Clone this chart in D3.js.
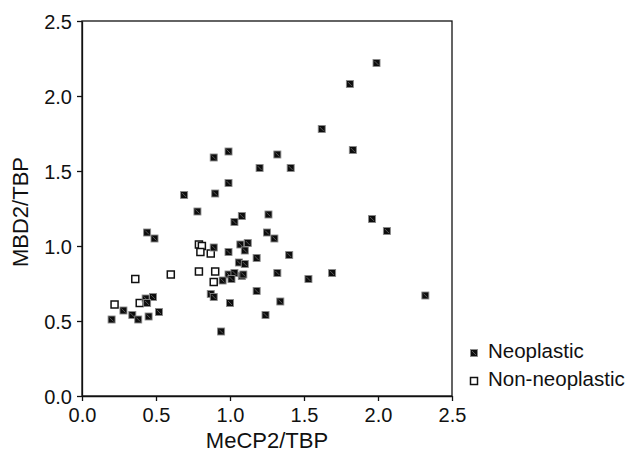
<!DOCTYPE html>
<html>
<head>
<meta charset="utf-8">
<script src="https://cdn.jsdelivr.net/npm/d3@7"></script>
<style>
	body { margin: 0; background: #fff; }
	text { font-family: "Liberation Sans", Arial, sans-serif; fill: #111; }
</style>
</head>
<body>
<div id="chart"></div>
<script>
// neoplastic samples: [MeCP2/TBP, MBD2/TBP]
const neoX = [1.99, 1.81, 1.62, 1.83, 0.99, 0.89, 1.32, 1.20, 1.41, 0.99,
	0.90, 0.69, 0.78, 1.08, 1.26, 1.03, 1.96, 2.06, 0.44, 0.49,
	1.25, 1.30, 0.89, 1.07, 1.12, 1.10, 0.99, 1.40, 1.18, 1.06,
	1.10, 1.69, 1.32, 0.99, 1.03, 1.08, 1.09, 0.95, 1.01, 1.53,
	1.18, 0.87, 0.89, 2.32, 0.48, 0.43, 0.44, 1.00, 1.34, 0.52,
	1.24, 0.28, 0.34, 0.38, 0.45, 0.20, 0.94];
const neoY = [2.22, 2.08, 1.78, 1.64, 1.63, 1.59, 1.61, 1.52, 1.52, 1.42,
	1.35, 1.34, 1.23, 1.20, 1.21, 1.16, 1.18, 1.10, 1.09, 1.05,
	1.09, 1.05, 0.99, 1.01, 1.02, 0.97, 0.96, 0.94, 0.92, 0.89,
	0.88, 0.82, 0.82, 0.81, 0.82, 0.80, 0.81, 0.77, 0.78, 0.78,
	0.70, 0.68, 0.66, 0.67, 0.66, 0.65, 0.62, 0.62, 0.63, 0.56,
	0.54, 0.57, 0.54, 0.51, 0.53, 0.51, 0.43];

// non-neoplastic samples
const nonX = [0.22, 0.36, 0.39, 0.60, 0.79, 0.81, 0.80, 0.87, 0.79, 0.90, 0.89];
const nonY = [0.61, 0.78, 0.62, 0.81, 1.01, 1.00, 0.96, 0.95, 0.83, 0.83, 0.76];

const ticks = [0, 0.5, 1.0, 1.5, 2.0, 2.5];
const legendLabels = ['Neoplastic', 'Non-neoplastic'];

let svgWidth = 631;
let svgHeight = 452;
let padding = { 'left': 82, 'right': 179, 'top': 21, 'bottom': 56 };

let svg = d3.select('#chart').append('svg')
	.attr('width', svgWidth)
	.attr('height', svgHeight);

let x = d3.scaleLinear()
	.domain([0, 2.5])
	.range([padding.left, svgWidth - padding.right]);
let y = d3.scaleLinear()
	.domain([0, 2.5])
	.range([svgHeight - padding.bottom, padding.top]);

// frame
svg.append('rect')
	.attr('x', x(0))
	.attr('y', y(2.5))
	.attr('width', x(2.5) - x(0))
	.attr('height', y(0) - y(2.5))
	.attr('fill', 'none')
	.attr('stroke', '#111')
	.attr('stroke-width', 1.3);

let axis_x = d3.axisBottom(x)
	.tickValues(ticks)
	.tickSize(5)
	.tickSizeOuter(0)
	.tickFormat(d3.format('.1f'));
let axis_y = d3.axisLeft(y)
	.tickValues(ticks)
	.tickSize(5)
	.tickSizeOuter(0)
	.tickFormat(d3.format('.1f'));

let gx = svg.append('g')
	.attr('transform', `translate(0, ${y(0)})`)
	.call(axis_x);
let gy = svg.append('g')
	.attr('transform', `translate(${x(0)}, 0)`)
	.call(axis_y);

[gx, gy].forEach(g => {
	g.selectAll('path, line').attr('stroke', '#111').attr('stroke-width', 1.3);
	g.selectAll('text')
		.style('font-family', '"Liberation Sans", Arial, sans-serif')
		.style('font-size', '20px')
		.attr('fill', '#111');
});
gx.selectAll('text').attr('dy', '0.9em');
gy.selectAll('text').attr('x', -10).attr('dy', '0.36em');

svg.append('text')
	.attr('x', (x(0) + x(2.5)) / 2)
	.attr('y', 448)
	.attr('text-anchor', 'middle')
	.attr('font-size', '22px')
	.text('MeCP2/TBP');

svg.append('text')
	.attr('transform', `translate(28, 212) rotate(-90)`)
	.attr('text-anchor', 'middle')
	.attr('font-size', '22px')
	.text('MBD2/TBP');

function filledSquare(g, cx, cy, s) {
	g.append('rect')
		.attr('x', cx - s / 2)
		.attr('y', cy - s / 2)
		.attr('width', s)
		.attr('height', s)
		.attr('fill', '#0d0d0d')
		.attr('stroke', '#8a8a8a')
		.attr('stroke-width', 0.9);
	g.append('line')
		.attr('x1', cx - s / 2 + 1.5)
		.attr('y1', cy - s / 2 + 1.5)
		.attr('x2', cx + s / 2 - 1.5)
		.attr('y2', cy + s / 2 - 1.5)
		.attr('stroke', '#6a6a6a')
		.attr('stroke-width', 0.8);
}

function openSquare(g, cx, cy, s) {
	g.append('rect')
		.attr('x', cx - s / 2)
		.attr('y', cy - s / 2)
		.attr('width', s)
		.attr('height', s)
		.attr('fill', '#fff')
		.attr('stroke', '#111')
		.attr('stroke-width', 1.5);
}

let body = svg.append('g').classed('body', true);

nonX.forEach((d, i) => openSquare(body, x(d), y(nonY[i]), 7));
neoX.forEach((d, i) => filledSquare(body, x(d), y(neoY[i]), 7));

// legend
let legend = svg.append('g').classed('legend', true);
filledSquare(legend, 474, 353, 7);
openSquare(legend, 474, 381, 7);
legendLabels.forEach((d, i) => {
	legend.append('text')
		.attr('x', 488)
		.attr('y', 358 + i * 28)
		.attr('font-size', '20.5px')
		.text(d);
});
</script>
</body>
</html>
